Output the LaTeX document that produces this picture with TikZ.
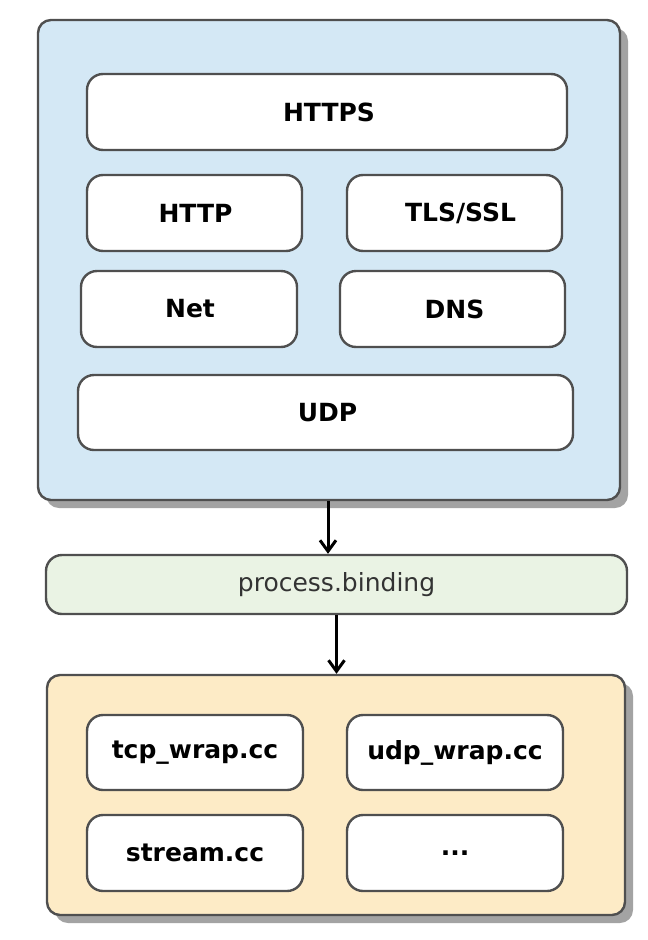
\documentclass[tikz,border=0pt]{standalone}
\usepackage{fontspec}
\setmainfont{DejaVu Sans}
\usetikzlibrary{arrows.meta,shadows}
\definecolor{bluefill}{HTML}{D4E8F5}
\definecolor{yellowfill}{HTML}{FDEBC6}
\definecolor{greenfill}{HTML}{EAF3E4}
\definecolor{strokegray}{HTML}{4F4F4F}
\definecolor{shadowgray}{HTML}{A3A3A3}
\definecolor{textgray}{HTML}{333333}
\tikzset{
  container/.style={draw=strokegray, line width=2.4pt, rounded corners=13pt,
    drop shadow={shadow xshift=8pt, shadow yshift=-8pt, fill=shadowgray, opacity=1},
    inner sep=0pt},
  layer/.style={draw=strokegray, line width=2.4pt, rounded corners=16pt, fill=white,
    inner sep=0pt, font=\fontsize{25}{30}\selectfont\bfseries},
  binder/.style={draw=strokegray, line width=2.4pt, rounded corners=16pt, fill=greenfill,
    inner sep=0pt, text=textgray, font=\fontsize{25}{30}\selectfont},
  flow/.style={line width=3pt, -{Straight Barb[length=11pt,width=16pt,line width=3pt]}}
}
\begin{document}
\begin{tikzpicture}[x=1pt,y=-1pt]
\useasboundingbox (0,0) rectangle (648,940);
% containers
\node[container, fill=bluefill, minimum width=582pt, minimum height=480pt] (net) at (329,260) {};
\node[container, fill=yellowfill, minimum width=578pt, minimum height=240pt] (native) at (336,795) {};
% layers in the JS container
\node[layer, minimum width=480pt, minimum height=76pt] (https) at (327,112) {};
\node[xshift=2pt] at (https) {\fontsize{25}{30}\selectfont\bfseries HTTPS};
\node[layer, minimum width=215pt, minimum height=76pt] (http) at (194.5,213) {};
\node[xshift=1pt] at (http) {\fontsize{25}{30}\selectfont\bfseries HTTP};
\node[layer, minimum width=215pt, minimum height=76pt] (tls) at (454.5,213) {};
\node[xshift=6pt] at (tls) {\fontsize{25}{30}\selectfont\bfseries TLS/SSL};
\node[layer, minimum width=216pt, minimum height=76pt] (netmod) at (189,309) {};
\node[xshift=1pt] at (netmod) {\fontsize{25}{30}\selectfont\bfseries Net};
\node[layer, minimum width=225pt, minimum height=76pt] (dns) at (452.5,309) {};
\node[xshift=2pt] at (dns) {\fontsize{25}{30}\selectfont\bfseries DNS};
\node[layer, minimum width=495pt, minimum height=75pt] (udp) at (325.5,412.5) {};
\node[xshift=2pt] at (udp) {\fontsize{25}{30}\selectfont\bfseries UDP};
% binding
\node[binder, minimum width=581pt, minimum height=59pt] (binding) at (336.5,584.5) {process.binding};
% native layers
\node[layer, minimum width=216pt, minimum height=75pt] (tcp) at (195,752.5) {tcp\_wrap.cc};
\node[layer, minimum width=216pt, minimum height=75pt] (udpw) at (455,752.5) {udp\_wrap.cc};
\node[layer, minimum width=216pt, minimum height=76pt] (stream) at (195,853) {stream.cc};
\node[layer, minimum width=216pt, minimum height=76pt] (dots) at (455,853) {...};
% arrows
\draw[flow] ([xshift=-1pt]net.south) -- ([xshift=-1pt]net.south |- binding.north);
\draw[flow] (binding.south) -- (binding.south |- native.north);
\end{tikzpicture}
\end{document}
